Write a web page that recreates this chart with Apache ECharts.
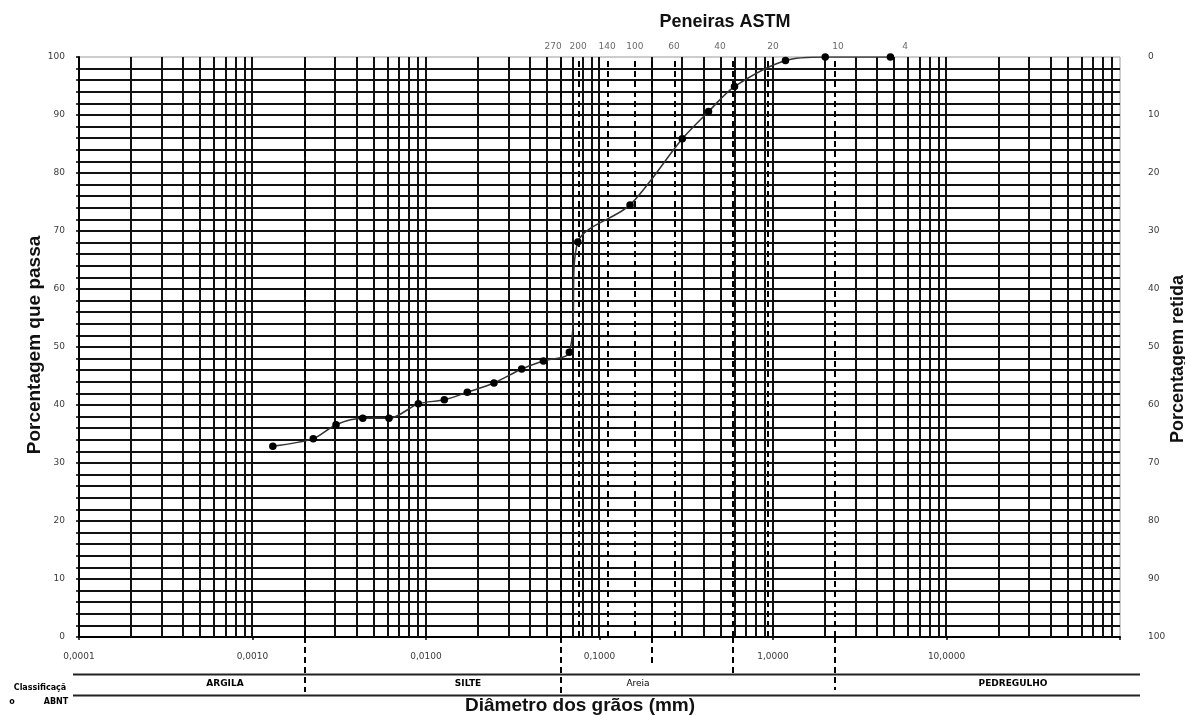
<!DOCTYPE html>
<html><head><meta charset="utf-8">
<script src="https://cdn.jsdelivr.net/npm/echarts@6/dist/echarts.min.js"></script>
<style>html,body{margin:0;padding:0;background:#fff}#c{width:1185px;height:715px}</style>
</head><body><div id="c"></div>
<script>
// ---- data ----
const diameters = [0.00131, 0.00224, 0.00303, 0.00432, 0.00612, 0.00903, 0.01275, 0.0173, 0.02465, 0.0356, 0.0475, 0.067, 0.075, 0.15, 0.30, 0.425, 0.60, 1.18, 2.0, 4.75];
const passing   = [32.9, 34.2, 36.6, 37.7, 37.7, 40.2, 40.9, 42.2, 43.8, 46.2, 47.6, 49.1, 68.1, 74.5, 85.9, 90.6, 94.9, 99.4, 100, 100];
const sieveNames   = ['270', '200', '140', '100', '60', '40', '20', '10', '4'];
const sieveLabelAt = [0.054, 0.0752, 0.1105, 0.160, 0.269, 0.495, 1.0, 2.37, 5.77];
const sieveLines   = [0.0765, 0.1124, 0.16, 0.272, 0.94];
const abntBounds   = [0.002, 0.06, 0.2, 0.59, 2.27];
const abntClasses  = ['ARGILA', 'SILTE', 'Areia', 'PEDREGULHO'];

// log-paper grid values (1..9 x 10^k)
const gridX = [];
for (let k = -4; k <= 1; k++) for (let d = 1; d <= 9; d++) {
  const v = d * Math.pow(10, k);
  if (v > 0.00011) gridX.push(v);
}

const chart = echarts.init(document.getElementById('c'), null, {renderer: 'canvas'});
const tickFont = {fontFamily: 'DejaVu Sans', fontSize: 9, color: '#3a3a3a'};

function fmtX(v) {
  if (v > 50) return '';
  return Number(v).toFixed(4).replace('.', ',');
}

function vLine(dash) {
  return function (params, api) {
    const v = api.value(0);
    const p0 = api.coord([v, 0]);
    const p1 = api.coord([v, 100]);
    const x = Math.round(p0[0]);
    return {
      type: 'line',
      shape: {x1: x, y1: p0[1], x2: x, y2: p1[1]},
      style: {stroke: dash ? '#000' : '#111', lineWidth: 2, lineDash: dash ? [6, 4] : null}
    };
  };
}

chart.setOption({
  animation: false,
  backgroundColor: '#fff',
  grid: {left: 79, top: 57, width: 1041, height: 580, show: true, borderColor: '#9a9a9a', borderWidth: 1, backgroundColor: 'transparent'},
  xAxis: {
    type: 'log', logBase: 10, min: 0.0001, max: 100,
    splitLine: {show: false},
    axisLine: {show: true, lineStyle: {color: '#000', width: 2}},
    axisTick: {show: true, length: 3, lineStyle: {color: '#000', width: 1.5}},
    axisLabel: Object.assign({formatter: fmtX, margin: 15}, tickFont)
  },
  yAxis: [{
    type: 'value', min: 0, max: 100, interval: 2,
    axisLine: {show: true, lineStyle: {color: '#000', width: 2}},
    axisTick: {show: true, length: 3, lineStyle: {color: '#000', width: 1.5}},
    axisLabel: Object.assign({formatter: v => (v % 10 === 0 ? String(v) : ''), margin: 14}, tickFont),
    splitLine: {show: true, showMinLine: false, showMaxLine: false, lineStyle: {color: '#111', width: 2}}
  }, {
    type: 'value', position: 'right', inverse: true, min: 0, max: 100, interval: 10,
    axisLine: {show: false}, axisTick: {show: false}, splitLine: {show: false},
    axisLabel: Object.assign({margin: 28, align: 'left'}, tickFont)
  }],
  series: [{
    type: 'custom', silent: true, z: 1, clip: false,
    renderItem: vLine(false),
    encode: {x: 0},
    data: gridX.map(v => [v])
  }, {
    type: 'custom', silent: true, z: 2, clip: false,
    renderItem: vLine(true),
    encode: {x: 0},
    data: sieveLines.concat(abntBounds).map(v => [v])
  }, {
    type: 'line', z: 5,
    data: diameters.map((d, i) => [d, passing[i]]),
    smooth: 0.3,
    symbol: 'circle', symbolSize: 7.5,
    itemStyle: {color: '#000'},
    lineStyle: {color: '#333', width: 1.5}
  }, {
    type: 'scatter', z: 6, silent: true,
    symbolSize: 1, itemStyle: {color: 'rgba(0,0,0,0)'},
    data: sieveNames.map((n, i) => ({name: n, value: [sieveLabelAt[i], 100]})),
    label: Object.assign({show: true, position: 'top', distance: 5, formatter: '{b}'}, tickFont, {color: '#444'})
  }]
});

// annotations below the plot (classification band)
const px = v => chart.convertToPixel({xAxisIndex: 0}, v);
const bandTop = 674.5, bandBottom = 695.5, axisY = 637;
const dropTo = [692, 693, 667, 673, 690];
const classX = [225, 468, 638, 1013];
const g = [];
abntBounds.forEach((v, i) => {
  const x = Math.round(px(v));
  g.push({type: 'line', shape: {x1: x, y1: axisY, x2: x, y2: dropTo[i]}, style: {stroke: '#000', lineWidth: 2, lineDash: [6, 4]}});
});
[bandTop, bandBottom].forEach(y => g.push({type: 'line', shape: {x1: 73, y1: y, x2: 1140, y2: y}, style: {stroke: '#222', lineWidth: 2}}));
abntClasses.forEach((t, i) => g.push({type: 'text', x: classX[i], y: 684, style: {text: t, fill: '#000', font: (t === 'Areia' ? '' : 'bold ') + '9px "DejaVu Sans"', textAlign: 'center', textVerticalAlign: 'middle'}}));
g.push({type: 'text', x: 40, y: 688, style: {text: 'Classificaçã', fill: '#000', font: 'bold 8px "DejaVu Sans"', textAlign: 'center', textVerticalAlign: 'middle'}});
g.push({type: 'text', x: 12, y: 702, style: {text: 'o', fill: '#000', font: 'bold 8px "DejaVu Sans"', textAlign: 'center', textVerticalAlign: 'middle'}});
g.push({type: 'text', x: 56, y: 702, style: {text: 'ABNT', fill: '#000', font: 'bold 8px "DejaVu Sans"', textAlign: 'center', textVerticalAlign: 'middle'}});
g.push({type: 'text', x: 725, y: 22, style: {text: 'Peneiras ASTM', fill: '#111', font: 'bold 18px "Liberation Sans"', textAlign: 'center', textVerticalAlign: 'middle'}});
g.push({type: 'text', x: 580, y: 706, style: {text: 'Diâmetro dos grãos (mm)', fill: '#111', font: 'bold 19px "Liberation Sans"', textAlign: 'center', textVerticalAlign: 'middle'}});
g.push({type: 'text', x: 35, y: 345, rotation: Math.PI / 2, style: {text: 'Porcentagem que passa', fill: '#111', font: 'bold 19px "Liberation Sans"', textAlign: 'center', textVerticalAlign: 'middle'}});
g.push({type: 'text', x: 1178, y: 359, rotation: Math.PI / 2, style: {text: 'Porcentagem retida', fill: '#111', font: 'bold 18px "Liberation Sans"', textAlign: 'center', textVerticalAlign: 'middle'}});
chart.setOption({graphic: g});
</script>
</body></html>
